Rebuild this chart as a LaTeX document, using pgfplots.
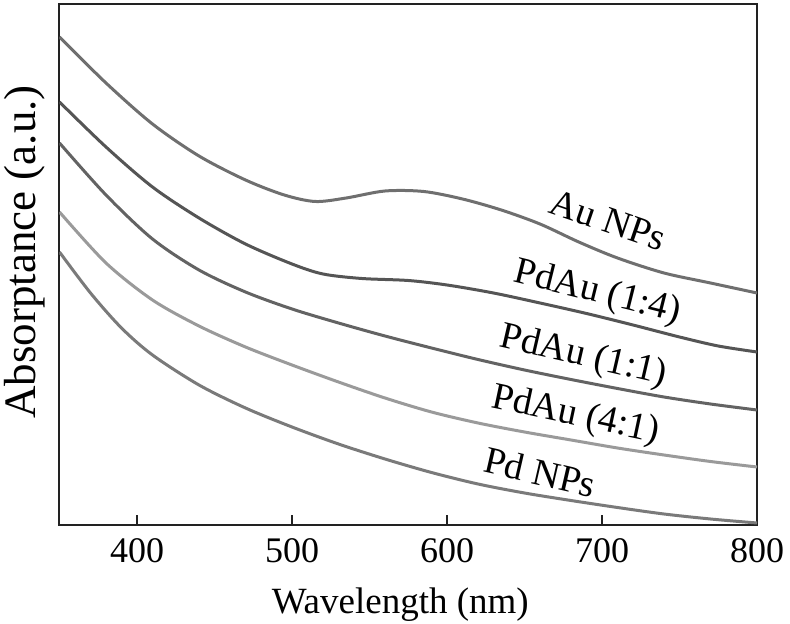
\documentclass[border=0pt]{standalone}
\usepackage{fontspec}
\setmainfont{Liberation Serif}
\usepackage{pgfplots}
\pgfplotsset{compat=1.18}
\definecolor{cAu}{HTML}{6F6F6F}
\definecolor{cA}{HTML}{555555}
\definecolor{cB}{HTML}{636363}
\definecolor{cC}{HTML}{9A9A9A}
\definecolor{cPd}{HTML}{7A7A7A}
\definecolor{axc}{HTML}{222222}
\begin{document}
\begin{tikzpicture}
\begin{axis}[
  name=ax,
  scale only axis,
  width=348.75pt, height=260.5pt,
  xmin=350, xmax=800, ymin=0, ymax=521,
  xtick={400,500,600,700,800},
  ytick=\empty,
  xtick pos=bottom,
  tick align=inside,
  major tick length=5pt,
  every tick/.style={axc, line width=0.8pt},
  axis line style={axc, line width=1pt},
  /pgf/number format/assume math mode=true,
  xticklabel style={font=\fontsize{18}{18}\selectfont, anchor=base, yshift=-19pt},
  xlabel={Wavelength (nm)},
  xlabel style={font=\fontsize{18.5}{18.5}\selectfont, at={(axis description cs:0.5,0)}, anchor=base, yshift=-44pt, xshift=-4pt},
  ylabel={Absorptance (a.u.)},
  ylabel style={font=\fontsize{22.5}{22.5}\selectfont, at={(axis description cs:-0.035,0.524)}, anchor=base},
  clip=true,
]
% Au NPs
\addplot[cAu, line width=1.5pt, smooth] coordinates {
(350,488) (380,442) (410,401) (440,369) (470,345) (495,330) (515,323.5) (535,327) (560,334) (585,333.5) (610,326) (635,315) (660,301) (685,283) (710,267) (740,252) (770,242) (800,232)
};
% PdAu (1:4)
\addplot[cA, line width=1.5pt, smooth] coordinates {
(350,423) (380,378) (410,338) (440,307) (470,281) (500,261) (520,251) (545,246.5) (575,244.5) (600,240) (630,232) (660,222) (690,211.5) (720,200) (750,188) (775,179) (800,173)
};
% PdAu (1:1)
\addplot[cB, line width=1.5pt, smooth] coordinates {
(350,382) (380,330) (410,286) (440,255) (470,233) (500,216) (530,202) (560,189) (590,177) (620,165.5) (650,155) (680,145.5) (710,136.5) (740,128) (770,121) (800,115)
};
% PdAu (4:1)
\addplot[cC, line width=1.5pt, smooth] coordinates {
(350,313) (380,262) (410,225) (440,199) (470,178) (500,160) (530,143) (560,127) (590,113) (620,102) (650,93) (680,85) (710,77) (740,70) (770,63.5) (800,58)
};
% Pd NPs
\addplot[cPd, line width=1.5pt, smooth] coordinates {
(350,273) (370,232) (390,197) (410,170) (440,140) (470,117) (500,98) (530,81) (560,66) (590,52.5) (620,41) (650,32) (680,24.5) (710,17.5) (740,11) (770,6) (800,2)
};
\node[font=\fontsize{19}{19}\selectfont, rotate=-19] at (axis cs:704,305) {Au NPs};
\node[font=\fontsize{19}{19}\selectfont, rotate=-14] at (axis cs:697,232) {PdAu (1:4)};
\node[font=\fontsize{19}{19}\selectfont, rotate=-13] at (axis cs:688,168) {PdAu (1:1)};
\node[font=\fontsize{19}{19}\selectfont, rotate=-12] at (axis cs:683,109) {PdAu (4:1)};
\node[font=\fontsize{19}{19}\selectfont, rotate=-13] at (axis cs:660,53) {Pd NPs};
\end{axis}
\pgfresetboundingbox
\path ([shift={(-29.75pt,-49.5pt)}]ax.south west) rectangle ([shift={(16.5pt,2pt)}]ax.north east);
\end{tikzpicture}
\end{document}
